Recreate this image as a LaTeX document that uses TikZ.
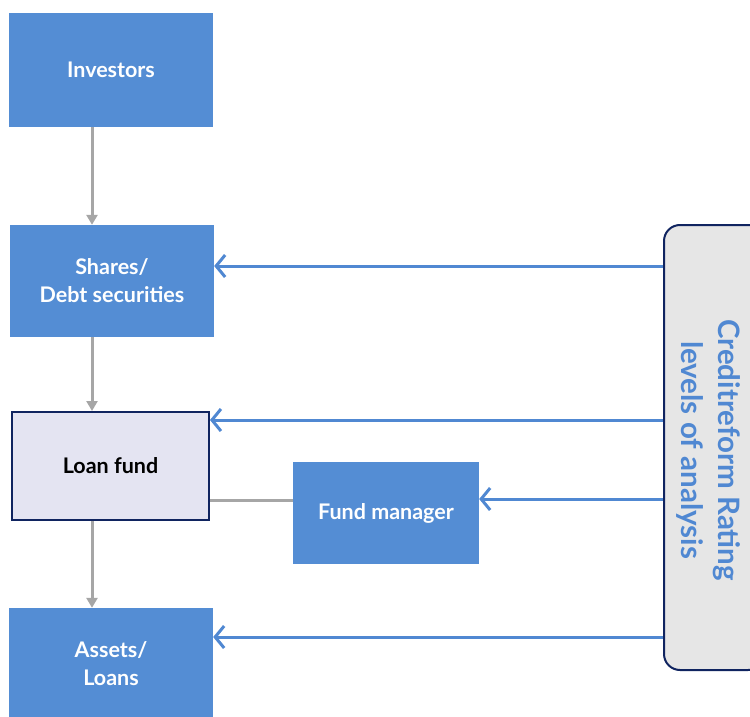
\documentclass[tikz,border=0pt]{standalone}
\usepackage{fontspec}
\setmainfont{Lato}
\usetikzlibrary{arrows.meta,calc}
\definecolor{boxblue}{RGB}{84,141,212}
\definecolor{lineblue}{RGB}{80,136,210}
\definecolor{arrgray}{RGB}{166,166,166}
\definecolor{navy}{RGB}{16,36,96}
\definecolor{lav}{RGB}{228,228,242}
\definecolor{panelgray}{RGB}{230,230,230}
\tikzset{
  bluebox/.style={rectangle, fill=boxblue, text=white, font=\bfseries\fontsize{21.5}{28}\selectfont, align=center, inner sep=0pt},
  fundbox/.style={rectangle, fill=lav, draw=navy, line width=2pt, text=black, font=\bfseries\fontsize{21.5}{28}\selectfont, align=center, inner sep=0pt},
  panelbox/.style={rectangle, rounded corners=16pt, fill=panelgray, draw=navy, line width=2pt},
  grayarrow/.style={draw=arrgray, line width=3pt, -{Triangle[length=10pt,width=11pt]}},
  grayline/.style={draw=arrgray, line width=3pt},
  bluearrow/.style={draw=lineblue, line width=3pt, -{Straight Barb[length=9pt,width=22pt,line width=3pt]}},
  paneltext/.style={text=lineblue, font=\bfseries\fontsize{29.5}{37}\selectfont, align=center, rotate=-90}
}
\begin{document}
\begin{tikzpicture}[x=1pt,y=-1pt]
\useasboundingbox (0,0) rectangle (750,717);
\clip (0,0) rectangle (750,717);
\node[bluebox, minimum width=204pt, minimum height=114pt] (inv) at (111,70) {Investors};
\node[bluebox, minimum width=204pt, minimum height=112pt] (sh) at (112,281) {Shares/\\Debt securities};
\node[fundbox, minimum width=197pt, minimum height=108pt] (lf) at (110.5,466) {Loan fund};
\node[bluebox, minimum width=186pt, minimum height=102pt] (fm) at (386,513) {Fund manager};
\node[bluebox, minimum width=204pt, minimum height=112pt] (al) at (111,664) {Assets/\\Loans};
\node[panelbox, minimum width=100pt, minimum height=445pt] (pn) at (714,447.5) {};
\node[paneltext] (pt) at (708,450) {Creditreform Rating\\levels of analysis};
% gray connectors
\draw[grayarrow] ([xshift=-19pt]inv.south) -- ([xshift=-20pt]sh.north);
\draw[grayarrow] ([xshift=-20pt]sh.south) -- ([xshift=-18.5pt]lf.north);
\draw[grayarrow] ([xshift=-18.5pt]lf.south) -- ([xshift=-19pt]al.north);
\draw[grayline] (lf.east |- 0,500) -- (fm.west |- 0,500);
% blue arrows
\draw[bluearrow] (pn.west |- 0,266) -- (sh.east |- 0,266);
\draw[bluearrow] (pn.west |- 0,420) -- (lf.east |- 0,420);
\draw[bluearrow] (pn.west |- 0,499) -- (fm.east |- 0,499);
\draw[bluearrow] (pn.west |- 0,637) -- (al.east |- 0,637);
\end{tikzpicture}
\end{document}
